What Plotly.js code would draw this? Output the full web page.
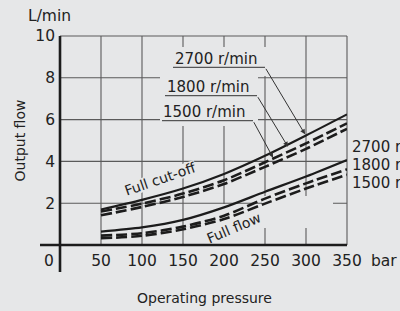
<!DOCTYPE html>
<html><head><meta charset="utf-8">
<script src="https://cdn.plot.ly/plotly-3.0.1.min.js"></script>
<style>html,body{margin:0;padding:0;background:#e6e7e8}</style>
</head><body><div id="chart" style="width:400px;height:311px"></div>
<script>
// ---- data ----
const pressure   = [50, 100, 150, 200, 250, 300, 350];
const cutoff2700 = [1.70, 2.16, 2.70, 3.40, 4.27, 5.24, 6.25];
const cutoff1800 = [1.60, 1.98, 2.46, 3.10, 3.96, 4.86, 5.82];
const cutoff1500 = [1.42, 1.82, 2.30, 2.92, 3.74, 4.60, 5.56];
const flow2700   = [0.64, 0.84, 1.20, 1.80, 2.55, 3.28, 4.07];
const flow1800   = [0.45, 0.56, 0.88, 1.40, 2.22, 2.95, 3.62];
const flow1500   = [0.32, 0.44, 0.75, 1.24, 1.98, 2.70, 3.36];
const xTicks = [50, 100, 150, 200, 250, 300, 350];
const yTicks = [2, 4, 6, 8, 10];
const speedLabels = ['2700 r/min', '1800 r/min', '1500 r/min'];
const arrowTipX = [298.8, 278, 259.8];
const arrowTipY = [5.30, 4.70, 4.18];

// ---- geometry helpers (layout only) ----
const L = 60, T = 36, W = 287, H = 209, XMAX = 350, YMAX = 10;
const px = v => (v - L) / W;            // pixel x -> paper
const py = v => (T + H - v) / H;        // pixel y -> paper
const dx = x => L + x * W / XMAX;       // data x -> pixel
const dy = y => T + H - y * H / YMAX;   // data y -> pixel

const BG = '#e6e7e8', INK = '#1c1c1c', GRID = '#5a5a5a';
const FONT = 'DejaVu Sans, Arial, sans-serif';

function lineTrace(y, dash, width) {
  return {x: pressure, y: y, type: 'scatter', mode: 'lines', hoverinfo: 'skip',
          line: {color: INK, width: width, dash: dash, shape: 'spline', smoothing: 0.8}};
}
const traces = [
  lineTrace(cutoff2700, 'solid', 2.2),
  lineTrace(cutoff1800, '11px,4px', 2.6),
  lineTrace(cutoff1500, '11px,4px', 2.6),
  lineTrace(flow2700, 'solid', 2.2),
  lineTrace(flow1800, '11px,4px', 2.6),
  lineTrace(flow1500, '11px,4px', 2.6)
];

const shapes = [];
// grid
xTicks.forEach(t => shapes.push({type: 'line', xref: 'paper', yref: 'paper', layer: 'below',
  x0: t / XMAX, x1: t / XMAX, y0: 0, y1: 1, line: {color: GRID, width: 1.1}}));
yTicks.forEach(t => shapes.push({type: 'line', xref: 'paper', yref: 'paper', layer: 'below',
  x0: 0, x1: 1, y0: t / YMAX, y1: t / YMAX, line: {color: GRID, width: 1.1}}));
// masks over grid behind labels
function mask(x0, y0, x1, y1) {
  shapes.push({type: 'rect', xref: 'paper', yref: 'paper', layer: 'below',
    x0: px(x0), x1: px(x1), y0: py(y0), y1: py(y1), fillcolor: BG, line: {width: 0}});
}
mask(160, 47, 258, 126);
mask(258, 47, 270, 76);
mask(205, 204, 262, 244);
mask(262, 196, 333, 228);
// rotated mask behind "Full cut-off"
(function () {
  const cx = 160, cy = 179, a = 19 * Math.PI / 180, hl = 38, hh = 7;
  const ux = Math.cos(a), uy = -Math.sin(a), nx = Math.sin(a), ny = Math.cos(a);
  const pts = [[-hl, -hh], [hl, -hh], [hl, hh], [-hl, hh]].map(([s, t]) =>
    [px(cx + s * ux + t * nx), py(cy + s * uy + t * ny)]);
  shapes.push({type: 'path', xref: 'paper', yref: 'paper', layer: 'below', fillcolor: BG, line: {width: 0},
    path: 'M' + pts.map(p => p[0] + ',' + p[1]).join('L') + 'Z'});
})();
// thick axes
shapes.push({type: 'line', xref: 'paper', yref: 'paper', x0: px(40), x1: 1, y0: 0, y1: 0,
  line: {color: INK, width: 2.6}});
shapes.push({type: 'line', xref: 'paper', yref: 'paper', x0: 0, x1: 0, y0: py(272), y1: 1,
  line: {color: INK, width: 2.6}});
// label underlines
const underl = [[173, 265, 67.3], [165, 257, 95.7], [162, 253, 120.7]];
underl.forEach(u => shapes.push({type: 'line', xref: 'paper', yref: 'paper',
  x0: px(u[0]), x1: px(u[1]), y0: py(u[2]), y1: py(u[2]), line: {color: '#333', width: 1}}));

const txt = (text, x, y, size, extra) => Object.assign({text: text, x: x, y: y, xref: 'paper', yref: 'paper',
  showarrow: false, font: {family: FONT, size: size, color: '#222'}}, extra || {});

const annotations = [
  txt('L/min', px(49.7), py(16), 15.5, {xanchor: 'center', yanchor: 'middle'}),
  txt('0', px(49.3), py(260.5), 15.5, {xanchor: 'center', yanchor: 'middle'}),
  txt('bar', px(384), py(260.5), 15.5, {xanchor: 'center', yanchor: 'middle'}),
  txt('Operating pressure', px(204), py(298), 14, {xanchor: 'center', yanchor: 'middle'}),
  txt('Output flow', px(19), py(140.5), 14, {xanchor: 'center', yanchor: 'middle', textangle: -90}),
  txt('Full cut-off', px(160), py(179), 14, {xanchor: 'center', yanchor: 'middle', textangle: -19}),
  txt('Full flow', px(233.5), py(227.5), 14, {xanchor: 'center', yanchor: 'middle', textangle: -23})
];
const topLeft = [173, 165, 161], topY = [59, 86.5, 111.5];
const rightY = [147, 165.3, 183.3];
speedLabels.forEach((s, i) => {
  annotations.push(txt(s, px(topLeft[i]), py(topY[i]), 15, {xanchor: 'left', yanchor: 'middle'}));
  annotations.push(txt(s, px(350), py(rightY[i]), 15, {xanchor: 'left', yanchor: 'middle'}));
  const tx = dx(arrowTipX[i]), ty = dy(arrowTipY[i]);
  annotations.push({x: arrowTipX[i], y: arrowTipY[i], xref: 'x', yref: 'y', text: '',
    showarrow: true, arrowhead: 2, arrowsize: 1, arrowwidth: 1, arrowcolor: '#333',
    ax: underl[i][1] - tx, ay: underl[i][2] - ty});
});

const layout = {
  width: 400, height: 311,
  margin: {l: L, r: 400 - L - W, t: T, b: 311 - T - H, pad: 0},
  paper_bgcolor: BG, plot_bgcolor: 'rgba(0,0,0,0)',
  showlegend: false,
  xaxis: {range: [0, XMAX], tickvals: xTicks, ticktext: xTicks.map(String), showgrid: false,
    zeroline: false, showline: false, ticks: '', fixedrange: true,
    tickfont: {family: FONT, size: 15.5, color: '#222'}, ticklabelshift: -3.5, ticklabelstandoff: 4},
  yaxis: {range: [0, YMAX], tickvals: yTicks, ticktext: yTicks.map(String), showgrid: false,
    zeroline: false, showline: false, ticks: '', fixedrange: true,
    tickfont: {family: FONT, size: 15.5, color: '#222'}, ticklabelstandoff: 4},
  shapes: shapes,
  annotations: annotations
};
Plotly.newPlot('chart', traces, layout, {staticPlot: true, displayModeBar: false});
</script></body></html>
